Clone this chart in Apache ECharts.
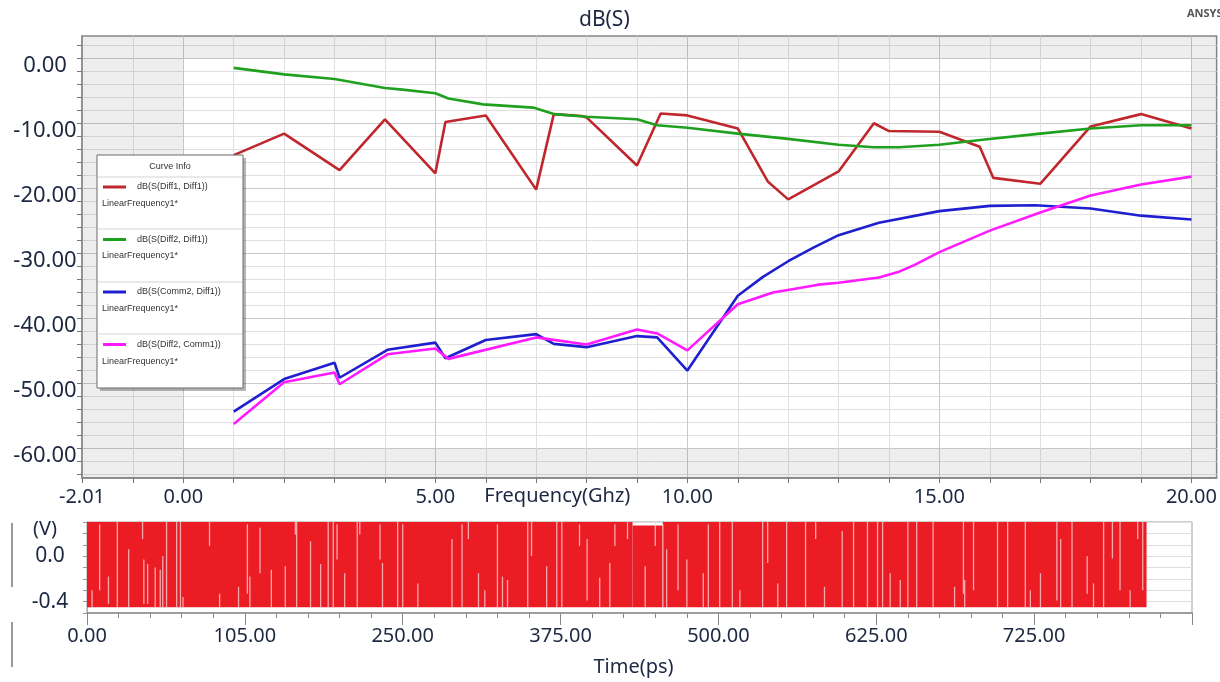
<!DOCTYPE html>
<html>
<head>
<meta charset="utf-8">
<title>dB(S)</title>
<script src="https://cdn.jsdelivr.net/npm/echarts@6/dist/echarts.min.js"></script>
<style>
  html, body { margin: 0; padding: 0; background: #fff; }
  #main { width: 1220px; height: 682px; }
</style>
</head>
<body>
<div id="main"></div>
<script>
// S-parameter curves, frequency in GHz, magnitude in dB
var diff11Freq = [1, 2, 3.1, 4, 5, 5.2, 6, 7, 7.35, 7.9, 8, 9, 9.47, 10, 11, 11.6, 12, 13, 13.7, 14, 15, 15.8, 16.07, 17, 18, 19, 20];
var diff11Db = [-14.9, -11.6, -17.2, -9.4, -17.7, -9.8, -8.8, -20.2, -8.6, -8.9, -9.1, -16.5, -8.5, -8.8, -10.8, -19.0, -21.7, -17.4, -10.0, -11.2, -11.3, -13.6, -18.4, -19.3, -10.5, -8.6, -10.8];

var diff21Freq = [1, 2, 3, 4, 4.3, 5, 5.26, 5.95, 6.94, 7.35, 8, 9, 9.4, 10, 11, 12, 13, 13.7, 14.2, 15, 15.9, 17, 18, 19, 20];
var diff21Db = [-1.5, -2.5, -3.2, -4.6, -4.8, -5.4, -6.2, -7.1, -7.6, -8.6, -9.0, -9.4, -10.3, -10.7, -11.6, -12.4, -13.3, -13.7, -13.7, -13.3, -12.5, -11.6, -10.8, -10.3, -10.3];

var comm2Freq = [1, 2, 3, 3.1, 4.05, 5, 5.2, 6, 7, 7.35, 8, 9, 9.4, 10, 11, 11.5, 12, 12.5, 13, 13.8, 15, 16, 16.9, 18, 19, 20];
var comm2Db = [-54.3, -49.3, -46.8, -49.1, -44.8, -43.7, -46.1, -43.3, -42.4, -43.9, -44.4, -42.7, -42.9, -48.0, -36.5, -33.6, -31.2, -29.1, -27.2, -25.3, -23.5, -22.7, -22.6, -23.1, -24.2, -24.8];

var comm1Freq = [1, 2, 3, 3.1, 4.05, 5, 5.26, 7, 8, 9, 9.4, 10, 11, 11.7, 12.6, 13, 13.8, 14.2, 14.5, 15, 16, 17, 18, 19, 20];
var comm1Db = [-56.2, -49.8, -48.3, -50.1, -45.5, -44.6, -46.2, -42.9, -44.0, -41.7, -42.3, -44.9, -37.8, -36.0, -34.8, -34.5, -33.7, -32.8, -31.8, -29.8, -26.5, -23.7, -21.1, -19.4, -18.2];

var freqLabels = [-2.01, 0, 5, 10, 15, 20];
var dbLabels = [0, -10, -20, -30, -40, -50, -60];

// transient waveform, time in ps, volts
var bandStart = [0, 432, 456];
var bandEnd = [432, 456, 839];
var bandLow = [-0.45, -0.45, -0.45];
var bandHigh = [0.30, 0.27, 0.30];

var gapTime = [4, 10, 17, 24, 33, 44, 45, 48, 54, 58, 60, 63, 71, 74, 76, 97, 105, 120, 127, 129, 137, 146, 157, 165, 166, 177, 185, 191, 195, 198, 204, 214, 216, 232, 234, 246,
  250, 262, 289, 297, 302, 310, 315, 325, 329, 333, 349, 352, 364, 372, 376, 390, 396, 406, 414, 418, 428, 442, 450, 456, 459, 468, 475, 488, 492, 501, 511, 517, 535, 539, 547, 554,
  569, 577, 584, 598, 607, 618, 626, 630, 636, 644, 650, 657, 670, 687, 694, 695, 702, 721, 729, 743, 747, 755, 768, 771, 780, 792, 797, 805, 812, 818, 826, 832, 836];
var gapLow = [-0.45, -0.30, -0.42, -0.45, -0.45, 0.15, -0.42, -0.42, -0.45, -0.45, -0.45, -0.45, -0.45, -0.45, -0.45, 0.09, -0.45, -0.45, -0.33, -0.45, -0.15, -0.45, -0.45, 0.19, -0.45, -0.45, -0.45, -0.45, -0.45, -0.03, -0.45, -0.45, 0.19, -0.03, -0.45, -0.45,
  -0.45, -0.45, -0.45, -0.45, 0.15, -0.45, -0.45, -0.45, -0.45, -0.45, -0.45, 0.00, -0.45, -0.45, -0.45, 0.09, -0.39, -0.45, -0.45, 0.09, 0.15, -0.45, 0.09, -0.45, -0.45, -0.30, -0.45, -0.45, -0.45, -0.45, -0.45, -0.45, -0.45, -0.06, -0.45, -0.45,
  -0.45, 0.15, -0.45, -0.45, -0.45, -0.45, -0.45, -0.45, -0.45, -0.45, -0.45, -0.45, -0.45, -0.45, -0.33, -0.45, -0.30, -0.45, -0.45, -0.45, -0.45, -0.45, -0.39, -0.45, -0.45, -0.33, -0.45, -0.45, -0.02, -0.30, -0.45, 0.15, -0.30];
var gapHigh = [-0.30, 0.28, -0.18, 0.30, 0.06, 0.30, -0.03, -0.07, -0.10, -0.12, 0.00, 0.30, 0.30, 0.30, -0.36, 0.30, -0.33, -0.27, 0.28, -0.18, 0.25, -0.12, -0.09, 0.30, 0.30, 0.13, -0.07, 0.30, 0.30, 0.28, -0.15, 0.30, 0.30, 0.28, -0.06, 0.30,
  0.28, -0.24, 0.15, 0.28, 0.30, -0.15, -0.30, 0.28, -0.18, -0.21, 0.30, 0.30, -0.09, 0.30, 0.30, 0.28, 0.15, -0.19, -0.06, 0.28, 0.30, -0.09, 0.30, 0.28, 0.06, 0.28, -0.03, -0.15, 0.28, 0.30, 0.30, -0.30, 0.30, 0.30, -0.24, 0.30,
  0.30, 0.30, -0.27, 0.22, 0.30, 0.30, 0.30, 0.30, -0.15, -0.21, 0.30, 0.30, 0.30, -0.27, 0.30, -0.21, 0.30, 0.30, 0.30, 0.30, -0.30, -0.15, 0.30, 0.15, 0.30, 0.00, -0.24, 0.30, 0.30, 0.30, -0.30, 0.30, 0.30];

var timeLabels = ['0.00', '105.00', '250.00', '375.00', '500.00', '625.00', '725.00'];
var voltLabels = [0, -0.4];

var seriesNames = ['dB(S(Diff1, Diff1))', 'dB(S(Diff2, Diff1))', 'dB(S(Comm2, Diff1))', 'dB(S(Diff2, Comm1))'];
var seriesColors = ['#c0272d', '#1fa01f', '#1f1fcf', '#ff1aff'];

var FONT = '"Noto Sans", "Open Sans", sans-serif';
var SMALL = '"Liberation Sans", Arial, sans-serif';
var TEXT = '#1d2742';

function pairs(xs, ys) {
  return xs.map(function (x, i) { return [x, ys[i]]; });
}

var freqTicks = [-2.01];
for (var f = -1; f <= 20; f++) freqTicks.push(f);
var dbTicks = [];
for (var d = -64; d <= 2; d += 2) dbTicks.push(d);
var voltTicks = [-0.5, -0.4, -0.3, -0.2, -0.1, 0, 0.1, 0.2, 0.3];

var myChart = echarts.init(document.getElementById('main'));

var lineSeries = [
  [diff11Freq, diff11Db],
  [diff21Freq, diff21Db],
  [comm2Freq, comm2Db],
  [comm1Freq, comm1Db]
].map(function (s, i) {
  var item = {
    name: seriesNames[i],
    type: 'line',
    xAxisIndex: 0,
    yAxisIndex: 0,
    data: pairs(s[0], s[1]),
    symbol: 'none',
    color: seriesColors[i],
    lineStyle: { width: 2.6, color: seriesColors[i] },
    z: 3
  };
  if (i === 0) {
    item.markArea = {
      silent: true,
      itemStyle: { color: 'rgba(0,0,0,0.065)' },
      data: [
        [{ xAxis: -2.01, yAxis: -64.5 }, { xAxis: 0, yAxis: 3.4 }],
        [{ xAxis: 20, yAxis: -64.5 }, { xAxis: 20.5, yAxis: 3.4 }],
        [{ xAxis: 0, yAxis: 0 }, { xAxis: 20, yAxis: 3.4 }],
        [{ xAxis: 0, yAxis: -64.5 }, { xAxis: 20, yAxis: -60 }]
      ]
    };
  }
  return item;
});

var legendRows = [204, 256, 309, 362];
var legendSeps = [177, 229, 282, 334];

myChart.setOption({
  animation: false,
  backgroundColor: '#fff',
  textStyle: { fontFamily: FONT },
  title: {
    text: 'dB(S)',
    left: 574,
    top: 5,
    textStyle: { fontSize: 21, fontWeight: 'normal', color: TEXT, fontFamily: FONT }
  },
  legend: {
    data: seriesNames,
    orient: 'vertical',
    left: 103,
    top: 181,
    padding: 0,
    icon: 'rect',
    itemWidth: 23,
    itemHeight: 3,
    itemGap: 40.5,
    z: 60,
    textStyle: { fontSize: 9, color: '#333', lineHeight: 12, padding: [0, 0, 0, 6], fontFamily: SMALL }
  },
  grid: [
    { left: 82, top: 36, width: 1135, height: 442, show: true, borderColor: '#8a8a8a', borderWidth: 1.5, backgroundColor: '#fff' },
    { left: 87, top: 522, width: 1105, height: 91, show: true, borderColor: '#a0a0a0', borderWidth: 1 }
  ],
  xAxis: [
    {
      type: 'value', gridIndex: 0, min: -2.01, max: 20.5, position: 'bottom',
      name: 'Frequency(Ghz)', nameLocation: 'middle', nameGap: 8, nameMoveOverlap: false,
      nameTextStyle: { fontSize: 20, color: TEXT, padding: [0, 184, 0, 0], fontFamily: FONT },
      axisLine: { show: true, onZero: false, lineStyle: { color: '#8a8a8a', width: 1.5 } },
      axisTick: { show: true, length: 5, customValues: freqTicks, lineStyle: { color: '#777' } },
      axisLabel: { customValues: freqLabels, formatter: function (v) { return v.toFixed(2); }, fontSize: 20, color: TEXT, margin: 9, fontFamily: FONT },
      splitLine: { show: true, lineStyle: { color: '#e0e0e0', width: 1 } }
    },
    {
      type: 'value', gridIndex: 0, min: -2.01, max: 20.5, position: 'top',
      axisLine: { show: false, onZero: false }, axisLabel: { show: false },
      axisTick: { show: false, customValues: [0, 5, 10, 15, 20] },
      splitLine: { show: true, lineStyle: { color: '#cacaca', width: 1 } }
    },
    {
      type: 'value', gridIndex: 1, min: 0, max: 875, interval: 125,
      name: 'Time(ps)', nameLocation: 'middle', nameGap: 44,
      nameTextStyle: { fontSize: 20, color: TEXT, padding: [0, 12, 0, 0], fontFamily: FONT },
      axisLine: { show: true, onZero: false, lineStyle: { color: '#8a8a8a', width: 1.5 } },
      axisTick: { show: true, length: 12, lineStyle: { color: '#888' } },
      minorTick: { show: true, splitNumber: 5, length: 5, lineStyle: { color: '#888' } },
      axisLabel: {
        formatter: function (v) { var i = Math.round(v / 125); return timeLabels[i] || ''; },
        fontSize: 20, color: TEXT, margin: 13, fontFamily: FONT
      },
      splitLine: { show: false }
    }
  ],
  yAxis: [
    {
      type: 'value', gridIndex: 0, min: -64.5, max: 3.4,
      axisLine: { show: true, onZero: false, lineStyle: { color: '#8a8a8a', width: 1.5 } },
      axisTick: { show: true, length: 5, customValues: dbTicks, lineStyle: { color: '#777' } },
      axisLabel: {
        customValues: dbLabels, formatter: function (v) { return v.toFixed(2); },
        fontSize: 22, color: TEXT, align: 'center', verticalAlign: 'top', lineHeight: 15, margin: 37, fontFamily: FONT
      },
      splitLine: { show: true, lineStyle: { color: '#e0e0e0', width: 1 } }
    },
    {
      type: 'value', gridIndex: 0, min: -64.5, max: 3.4, position: 'right',
      axisLine: { show: false, onZero: false }, axisLabel: { show: false },
      axisTick: { show: false, customValues: dbLabels },
      splitLine: { show: true, lineStyle: { color: '#cacaca', width: 1 } }
    },
    {
      type: 'value', gridIndex: 1, min: -0.5, max: 0.3,
      name: '(V)', nameLocation: 'end', nameGap: -17,
      nameTextStyle: { fontSize: 20, color: TEXT, align: 'center', padding: [0, 84, 0, 0], fontFamily: FONT },
      axisLine: { show: true, onZero: false, lineStyle: { color: '#b0b0b0' } },
      axisTick: { show: true, length: 4, customValues: voltTicks, lineStyle: { color: '#999' } },
      axisLabel: {
        customValues: voltLabels, formatter: function (v) { return v.toFixed(1); },
        fontSize: 21, color: TEXT, align: 'center', margin: 37, fontFamily: FONT
      },
      splitLine: { show: true, lineStyle: { color: '#dedede' } }
    }
  ],
  series: lineSeries.concat([
    {
      name: 'band',
      type: 'custom',
      xAxisIndex: 2,
      yAxisIndex: 2,
      data: bandStart.map(function (s, i) { return [s, bandEnd[i], bandLow[i], bandHigh[i]]; }),
      encode: { x: [0, 1], y: [2, 3] },
      renderItem: function (params, api) {
        var p0 = api.coord([api.value(0), api.value(3)]);
        var p1 = api.coord([api.value(1), api.value(2)]);
        return { type: 'rect', shape: { x: p0[0], y: p0[1], width: p1[0] - p0[0], height: p1[1] - p0[1] }, style: { fill: '#ec1c24' } };
      },
      z: 3
    },
    {
      name: 'gaps',
      type: 'custom',
      xAxisIndex: 2,
      yAxisIndex: 2,
      data: gapTime.map(function (t, i) { return [t, gapLow[i], gapHigh[i]]; }),
      encode: { x: 0, y: [1, 2] },
      renderItem: function (params, api) {
        var a = api.coord([api.value(0), api.value(1)]);
        var b = api.coord([api.value(0), api.value(2)]);
        return { type: 'line', shape: { x1: a[0], y1: a[1], x2: b[0], y2: b[1] }, style: { stroke: 'rgba(255,215,220,0.75)', lineWidth: 1.3 } };
      },
      z: 4
    }
  ]),
  graphic: [
    { type: 'rect', z: 50, shape: { x: 100, y: 158, width: 146, height: 233 }, style: { fill: 'rgba(90,90,90,0.45)' } },
    { type: 'rect', z: 51, shape: { x: 97, y: 155, width: 146, height: 233 }, style: { fill: '#fff', stroke: '#6a6a6a', lineWidth: 1 } },
    { type: 'text', z: 52, x: 170, y: 167, style: { text: 'Curve Info', fontSize: 9, fill: '#333', align: 'center', verticalAlign: 'middle', fontFamily: SMALL } }
  ].concat(legendSeps.map(function (y) {
    return { type: 'line', z: 52, shape: { x1: 98, y1: y, x2: 242, y2: y }, style: { stroke: '#d4d4d4', lineWidth: 1 } };
  })).concat(legendRows.map(function (y) {
    return { type: 'text', z: 52, x: 102, y: y, style: { text: 'LinearFrequency1*', fontSize: 9, fill: '#333', verticalAlign: 'middle', fontFamily: SMALL } };
  })).concat([
    { type: 'text', x: 1187, y: 14, style: { text: 'ANSYS', fontSize: 11, fontWeight: 'bold', fill: '#555', verticalAlign: 'middle', fontFamily: FONT } },
    { type: 'line', shape: { x1: 12, y1: 523, x2: 12, y2: 587 }, style: { stroke: '#777', lineWidth: 1.5 } },
    { type: 'line', shape: { x1: 12, y1: 622, x2: 12, y2: 667 }, style: { stroke: '#777', lineWidth: 1.5 } }
  ])
});
</script>
</body>
</html>
